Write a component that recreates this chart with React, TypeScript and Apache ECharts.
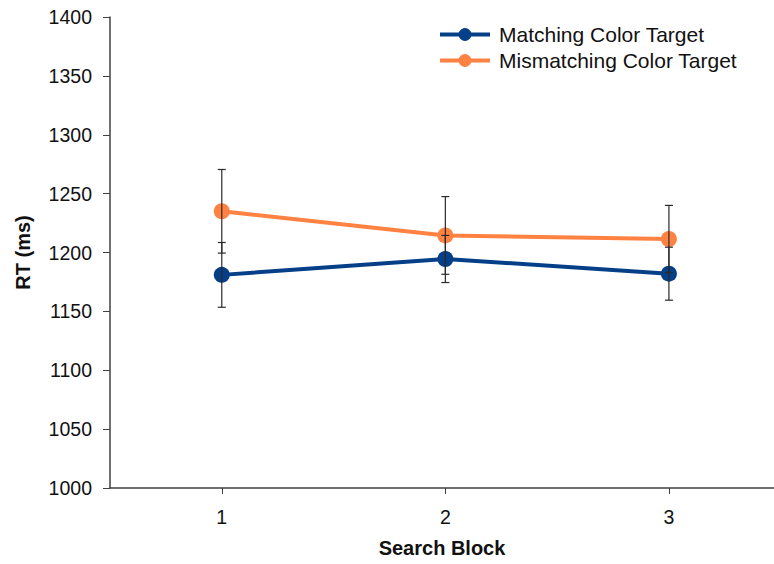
import React, { useEffect, useRef } from "react";
import * as echarts from "echarts";

const categories = ["1", "2", "3"];
const categoryPositions = [1, 2, 3];
const matchingMean = [1181, 1194.5, 1182];
const matchingErr = [27.5, 20, 22.5];
const mismatchMean = [1235, 1214.5, 1211.5];
const mismatchErr = [35.5, 33, 28.5];
const seriesNames = ["Matching Color Target", "Mismatching Color Target"];
const yMin = 1000;
const yMax = 1400;
const yStep = 50;
const xMin = 0.5;
const xMax = 3.47;

const BLUE = "#053F88";
const ORANGE = "#FF8242";
const AXIS = "#404040";
const FONT = "Liberation Sans, Arial, sans-serif";

function pts(mean: number[]) {
  return mean.map((m, i) => [categoryPositions[i], m]);
}

function errData(mean: number[], err: number[]) {
  return mean.map((m, i) => [categoryPositions[i], m - err[i], m + err[i]]);
}

function renderErr(params: any, api: any) {
  const x = api.value(0);
  const lo = api.coord([x, api.value(1)]);
  const hi = api.coord([x, api.value(2)]);
  const hw = 4;
  const style = { stroke: "#2a2a2a", lineWidth: 1.2 };
  return {
    type: "group",
    children: [
      { type: "line", shape: { x1: lo[0], y1: lo[1], x2: hi[0], y2: hi[1] }, style },
      { type: "line", shape: { x1: lo[0] - hw, y1: lo[1], x2: lo[0] + hw, y2: lo[1] }, style },
      { type: "line", shape: { x1: hi[0] - hw, y1: hi[1], x2: hi[0] + hw, y2: hi[1] }, style },
    ],
  };
}

export default function App() {
  const ref = useRef<HTMLDivElement>(null);
  useEffect(() => {
    if (!ref.current) return;
    const chart = echarts.init(ref.current, undefined, { renderer: "svg" });
    chart.setOption({
      animation: false,
      backgroundColor: "#ffffff",
      textStyle: { fontFamily: FONT },
      grid: { left: 110, right: 0, top: 17, bottom: 76, containLabel: false },
      legend: {
        data: seriesNames,
        orient: "vertical",
        left: 433,
        top: 19,
        itemWidth: 50,
        itemHeight: 16,
        itemGap: 5,
        lineStyle: { width: 4 },
        textStyle: { fontSize: 21, color: "#111", fontFamily: FONT, padding: [0, 0, 0, 4] },
      },
      xAxis: {
        type: "value",
        min: xMin,
        max: xMax,
        name: "Search Block",
        nameLocation: "middle",
        nameGap: 50,
        nameTextStyle: { fontSize: 20, fontWeight: "bold", color: "#111", fontFamily: FONT },
        axisLine: { lineStyle: { color: AXIS, width: 1.5 } },
        axisTick: { show: true, length: 6, lineStyle: { color: AXIS }, customValues: categoryPositions },
        axisLabel: {
          fontSize: 19.5,
          color: "#111",
          margin: 19,
          fontFamily: FONT,
          customValues: categoryPositions,
          formatter: (v: number) => categories[categoryPositions.indexOf(v)] ?? "",
        },
        splitLine: { show: false },
      },
      yAxis: {
        type: "value",
        min: yMin,
        max: yMax,
        interval: yStep,
        name: "RT (ms)",
        nameLocation: "middle",
        nameGap: 77,
        nameRotate: 90,
        nameTextStyle: { fontSize: 20, fontWeight: "bold", color: "#111", fontFamily: FONT },
        axisLine: { show: true, lineStyle: { color: AXIS, width: 1.5 } },
        axisTick: { show: true, length: 7, lineStyle: { color: AXIS } },
        axisLabel: {
          fontSize: 19.5,
          color: "#111",
          margin: 18,
          fontFamily: FONT,
          formatter: (v: number) => String(v),
        },
        splitLine: { show: false },
      },
      series: [
        {
          name: seriesNames[0],
          type: "line",
          data: pts(matchingMean),
          symbol: "circle",
          symbolSize: 16,
          lineStyle: { color: BLUE, width: 4 },
          itemStyle: { color: BLUE },
          z: 2,
        },
        {
          name: seriesNames[1],
          type: "line",
          data: pts(mismatchMean),
          symbol: "circle",
          symbolSize: 16,
          lineStyle: { color: ORANGE, width: 4 },
          itemStyle: { color: ORANGE },
          z: 2,
        },
        {
          type: "custom",
          data: errData(matchingMean, matchingErr),
          renderItem: renderErr,
          encode: { x: 0, y: [1, 2] },
          z: 5,
          silent: true,
        },
        {
          type: "custom",
          data: errData(mismatchMean, mismatchErr),
          renderItem: renderErr,
          encode: { x: 0, y: [1, 2] },
          z: 5,
          silent: true,
        },
      ],
    });
    return () => chart.dispose();
  }, []);
  return (
    <div
      ref={ref}
      style={{ position: "absolute", left: 0, top: 0, width: 774, height: 564 }}
    />
  );
}
